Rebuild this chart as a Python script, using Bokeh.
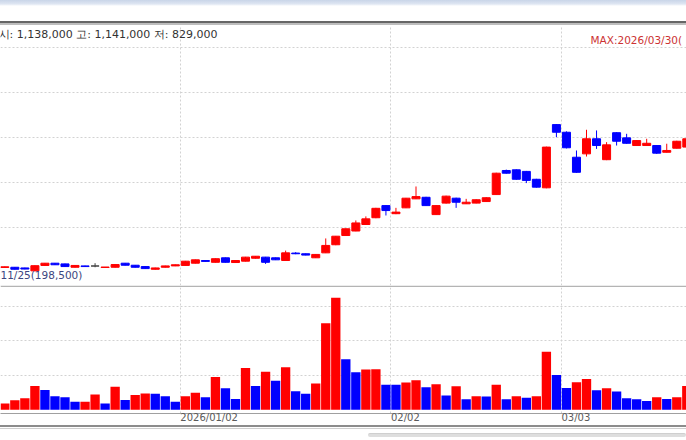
from bokeh.plotting import figure
from bokeh.models import Range1d, FixedTicker, ColumnDataSource, Div, CustomJSTickFormatter
from bokeh.layouts import column
from bokeh.embed import file_html
from bokeh.resources import INLINE
from bokeh.core.properties import value

# ---------------- data (daily candles, won / shares) ----------------
opens = [221000, 222000, 219000, 206000, 230000, 240000, 237000, 222000, 228000, 227500,
         221000, 222000, 240000, 231000, 225000, 213000, 222000, 228000, 230000, 240000,
         252000, 244000, 264000, 243000, 249000, 262000, 267000, 264000, 252000, 285000,
         282000, 264000, 286000, 322000, 363000, 383000, 412000, 442000, 496000, 460000,
         486000, 526000, 533000, 456000, 507000, 529000, 504000, 507000, 514000, 545000,
         652000, 655000, 648000, 613000, 575000, 856000, 822000, 711000, 726000, 793000,
         700000, 820000, 797000, 763000, 763000, 763000, 733000, 751000, 756000]
highs = [225000, 223000, 220000, 230000, 241000, 241000, 238000, 231000, 229000, 240000,
         223000, 235000, 241000, 232000, 226000, 220000, 229000, 234000, 250000, 256000,
         254000, 261000, 265000, 253000, 268000, 272000, 268000, 265000, 296000, 289000,
         283000, 280000, 350000, 361000, 394000, 430000, 448000, 486000, 498000, 486000,
         530000, 581000, 535000, 498000, 540000, 531000, 526000, 524000, 533000, 642000,
         656000, 657000, 650000, 615000, 758000, 858000, 826000, 741000, 833000, 830000,
         778000, 822000, 815000, 787000, 793000, 765000, 771000, 784000, 795000]
lows = [220000, 212000, 213000, 205000, 229000, 232000, 224000, 221000, 224000, 222000,
        221000, 221000, 230000, 221000, 215000, 212000, 221000, 227000, 229000, 239000,
        247000, 243000, 243000, 242000, 248000, 261000, 237000, 254000, 251000, 280000,
        275000, 263000, 285000, 320000, 362000, 382000, 411000, 440000, 452000, 458000,
        485000, 525000, 495000, 455000, 505000, 486000, 503000, 506000, 513000, 544000,
        638000, 611000, 596000, 576000, 573000, 800000, 750000, 642000, 714000, 748000,
        698000, 763000, 771000, 762000, 762000, 726000, 732000, 750000, 754000]
closes = [224000, 213000, 214000, 229000, 240000, 233000, 225000, 230000, 225000, 227500,
          223000, 234000, 231000, 222000, 216000, 219000, 228000, 233000, 249000, 255000,
          248000, 260000, 244000, 252000, 267000, 271000, 244000, 255000, 286000, 282000,
          276000, 279000, 319000, 360000, 393000, 419000, 437000, 484000, 474000, 467000,
          529000, 536000, 496000, 496000, 538000, 511000, 511000, 522000, 531000, 640000,
          640000, 613000, 608000, 578000, 756000, 822000, 753000, 644000, 793000, 763000,
          766000, 782000, 773000, 785000, 773000, 729000, 741000, 782000, 793000]
volumes = [355000, 547000, 659000, 1369000, 1144000, 772000, 716000, 451000, 460000, 885000,
           355000, 1335000, 563000, 845000, 941000, 930000, 772000, 451000, 772000, 975000,
           716000, 1899000, 1239000, 620000, 2423000, 1369000, 2197000, 1673000, 2462000, 1070000,
           918000, 1521000, 5014000, 6496000, 2930000, 2180000, 2327000, 2340000, 1448000, 1440000,
           1578000, 1707000, 1296000, 1482000, 828000, 1352000, 603000, 772000, 765000, 1448000,
           603000, 772000, 693000, 772000, 3363000, 2011000, 1256000, 1594000, 1786000, 1127000,
           1239000, 1054000, 659000, 603000, 507000, 716000, 620000, 716000, 1369000]

date_labels = ["2026/01/02", "02/02", "03/03"]
date_index = [18, 39, 56]
price_grid = [400000, 600000, 800000, 1000000, 1200000]
volume_grid = [2000000, 4000000, 6000000]
header_text = "시: 1,138,000 고: 1,141,000 저:  829,000"
max_text = "MAX:2026/03/30("
min_text = "11/25(198,500)"

# ---------------- layout constants ----------------
W = 686
UP, DOWN, FLAT = "#ff0000", "#0000ff", "#404040"
X_LO, X_HI = -0.43, 67.97
PRICE_LO, PRICE_HI = 140900, 1296400
VOL_LO, VOL_HI = -225000, 7099000
PRICE_H = 260          # price frame height
SLOT_PX = W / (X_HI - X_LO)
LABEL_FS = 10
FONT = "DejaVu Sans"


def frac_price(f):
    """price at fraction f of the frame measured from the top"""
    return PRICE_HI - f * (PRICE_HI - PRICE_LO)


n = len(opens)
idx = list(range(n))
candle_colors = [UP if c > o else (DOWN if c < o else FLAT) for o, c in zip(opens, closes)]
src = ColumnDataSource(dict(
    x=idx, high=highs, low=lows,
    top=[max(o, c) for o, c in zip(opens, closes)],
    bottom=[min(o, c) for o, c in zip(opens, closes)],
    color=candle_colors,
))
vol_colors = [UP if (i == 0 or volumes[i] >= volumes[i - 1]) else DOWN for i in idx]
vsrc = ColumnDataSource(dict(x=idx, v=volumes, color=vol_colors))

grid_x = [d - 0.5 for d in date_index]

x_range = Range1d(X_LO, X_HI)

# ---------------- price panel ----------------
pp = figure(width=W, height=PRICE_H + 2, x_range=x_range, y_range=Range1d(PRICE_LO, PRICE_HI),
            x_axis_location=None, y_axis_location=None, toolbar_location=None,
            output_backend="svg", min_border_left=0, min_border_right=0, min_border_top=0,
            min_border_bottom=2, border_fill_color="#b4b4b4", background_fill_color="white",
            outline_line_color=None)
pp.xgrid.ticker = FixedTicker(ticks=grid_x)
pp.ygrid.ticker = FixedTicker(ticks=price_grid)
for g in (pp.xgrid, pp.ygrid):
    g.grid_line_color = "#d2d2d2"
    g.grid_line_dash = "2 2"
    g.grid_line_width = 1

pp.segment(x0="x", y0="low", x1="x", y1="high", line_color="color", line_width=1, source=src)
pp.vbar(x="x", width=0.8, top="top", bottom="bottom", fill_color="color",
        line_color="color", line_width=1, source=src)

pp.text(x=[X_LO - 2 / SLOT_PX], y=[frac_price(9 / 260)], text=[header_text],
        text_font=value(FONT), text_font_size="11px", text_color="#333333",
        text_baseline="middle", text_align="left")
pp.text(x=[X_LO + 590 / SLOT_PX], y=[frac_price(14.5 / 260)], text=[max_text],
        text_font=value(FONT), text_font_size="10.5px", text_color="#cc3333",
        text_baseline="middle", text_align="left")
pp.text(x=[X_LO], y=[frac_price(249 / 260)], text=[min_text],
        text_font=value(FONT), text_font_size="10.5px", text_color="#3c4680",
        text_baseline="middle", text_align="left")

# ---------------- volume panel ----------------
vp = figure(width=W, height=138, x_range=x_range, y_range=Range1d(VOL_LO, VOL_HI),
            y_axis_location=None, x_axis_location="below", toolbar_location=None,
            output_backend="svg", min_border_left=0, min_border_right=0, min_border_top=0,
            min_border_bottom=0, background_fill_color="white", border_fill_color="white",
            outline_line_color=None)
vp.xgrid.ticker = FixedTicker(ticks=grid_x)
vp.ygrid.ticker = FixedTicker(ticks=volume_grid)
for g in (vp.xgrid, vp.ygrid):
    g.grid_line_color = "#d2d2d2"
    g.grid_line_dash = "2 2"
    g.grid_line_width = 1

vp.vbar(x="x", width=0.93, top="v", bottom=0, fill_color="color", line_color=None, source=vsrc)


def text_w(s):
    return sum((0.337 if ch == "/" else 0.636) * LABEL_FS for ch in s)


label_ticks = [g + text_w(s) / 2 / SLOT_PX for g, s in zip(grid_x, date_labels)]
ax = vp.xaxis[0]
ax.ticker = FixedTicker(ticks=label_ticks)
ax.formatter = CustomJSTickFormatter(args=dict(tick_pos=label_ticks, tick_text=date_labels), code="""
    for (let i = 0; i < tick_pos.length; i++) {
        if (Math.abs(tick_pos[i] - tick) < 1e-6) return tick_text[i];
    }
    return "";
""")
ax.major_tick_line_color = None
ax.minor_tick_line_color = None
ax.major_tick_out = 0
ax.major_tick_in = 0
ax.major_label_standoff = -2
ax.axis_line_color = "#a0a0a0"
ax.major_label_text_font = FONT
ax.major_label_text_font_size = f"{LABEL_FS}px"
ax.major_label_text_color = "#5a5a5a"

# ---------------- window chrome ----------------
top_div = Div(text="", width=W, height=25, margin=0, styles={
    "background": "linear-gradient(to bottom, #c9d5e8 0px, #dfe6f2 4px, #ffffff 6px, #ffffff 21px, "
                  "#666666 21px, #666666 23px, #bdbdbd 23px, #bdbdbd 25px)"})
bottom_div = Div(
    text='<div style="position:absolute;left:368px;top:8px;width:318px;height:4px;'
         'background:#dedede;border-top:1px solid #cfcfcf;border-radius:2px;"></div>',
    width=W, height=14, margin=0, styles={
        "position": "relative",
        "background": "linear-gradient(to bottom, #8c8c8c 0px, #8c8c8c 2px, #ffffff 2px, #ffffff 3px, "
                      "#cfcfcf 3px, #cfcfcf 4px, #ffffff 4px)"})

layout = column(top_div, pp, vp, bottom_div, spacing=0)

open("out.html", "w").write(file_html(layout, INLINE))
